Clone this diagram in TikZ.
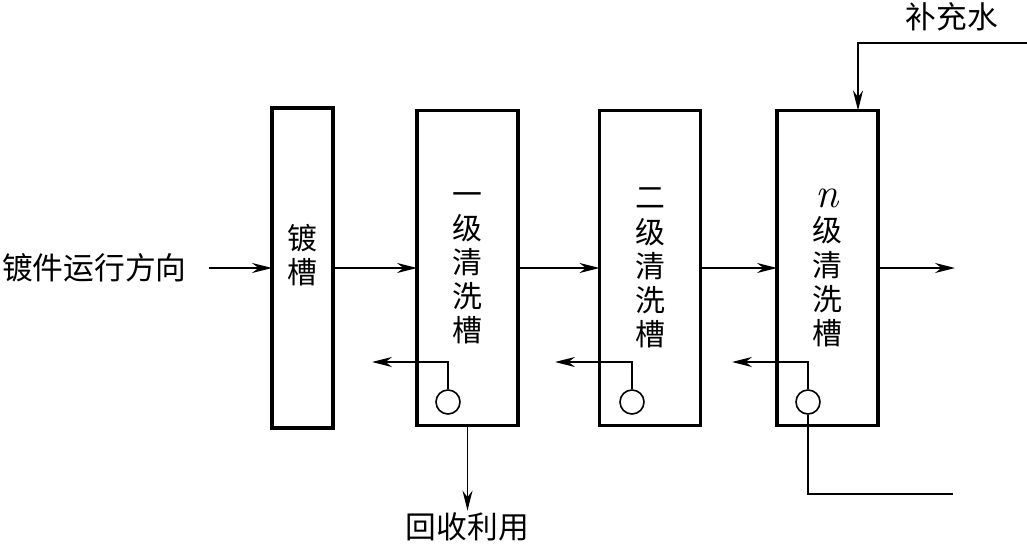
\documentclass[tikz,border=0pt]{standalone}
\usepackage{fontspec}
\setmainfont{Noto Sans CJK SC}
\newfontfamily\latin{Latin Modern Roman}
\usetikzlibrary{positioning,arrows.meta}

\tikzset{
  tank/.style={draw,line width=1.8pt,minimum width=2.02cm,minimum height=6.3cm,
    align=center,inner sep=0pt,outer sep=0pt,font=\fontsize{17}{19.4}\selectfont},
  pump/.style={draw,circle,line width=0.9pt,minimum size=0.48cm,inner sep=0pt},
  pipe/.style={line width=0.9pt},
  flow/.style={pipe,-{Stealth[length=4mm,width=2mm]}},
  txt/.style={font=\fontsize{17.5}{20}\selectfont,inner sep=1pt}
}

\begin{document}
\begin{tikzpicture}
  \useasboundingbox (0,0) rectangle (20.54,-10.94);
  % tanks
  \node[tank,minimum width=1.22cm,minimum height=6.4cm] (plate) at (6.05,-5.36) {镀\\槽\\[-3pt]};
  \node[tank] (t1) at (9.35,-5.36) {一\\级\\清\\洗\\槽};
  \node[tank] (t2) at (13.0,-5.36) {二\\级\\清\\洗\\槽};
  \node[tank] (t3) at (16.55,-5.36) {{\latin\itshape\fontsize{24}{19.4}\selectfont n}\\级\\清\\洗\\槽};
  % pumps
  \node[pump] (p1) at (8.96,-8.04) {};
  \node[pump] (p2) at (12.64,-8.04) {};
  \node[pump] (p3) at (16.16,-8.04) {};
  % texts
  \node[txt,anchor=west] (dir) at (0,-5.36) {镀件运行方向};
  \node[txt] (reuse) at (9.35,-10.54) {回收利用};
  \node[txt] (water) at (19.04,-0.34) {补充水};
  \coordinate (r1) at (7.44,-7.24);
  \coordinate (r2) at (11.1,-7.24);
  \coordinate (r3) at (14.64,-7.24);
  \coordinate (out) at (19.1,-5.36);
  \coordinate (drain) at (19.06,-9.88);
  \coordinate (feed) at (20.54,-0.86);
  % flow of parts
  \draw[flow] ([xshift=4mm]dir.east) -- (plate.west);
  \draw[flow] (plate) -- (t1);
  \draw[flow] (t1) -- (t2);
  \draw[flow] (t2) -- (t3);
  \draw[flow] (t3.east) -- (out);
  % water
  \draw[flow] (p1.north) |- (r1);
  \draw[flow] (p2.north) |- (r2);
  \draw[flow] (p3.north) |- (r3);
  \draw[pipe] (p3.south) |- (drain);
  \draw[flow] (t1.south) -- (reuse.north);
  \draw[flow] (feed) -| ([xshift=6.1mm]t3.north);
\end{tikzpicture}
\end{document}
